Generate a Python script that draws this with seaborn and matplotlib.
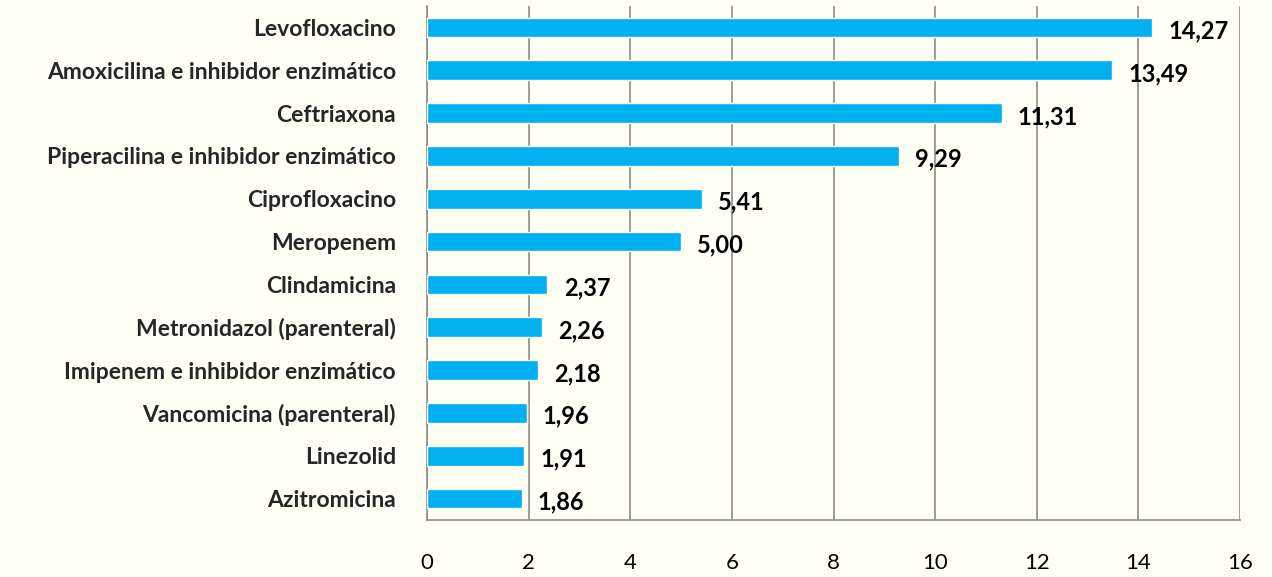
import matplotlib.pyplot as plt
import seaborn as sns
import pandas as pd

antibioticos = [
    "Levofloxacino",
    "Amoxicilina e inhibidor enzimático",
    "Ceftriaxona",
    "Piperacilina e inhibidor enzimático",
    "Ciprofloxacino",
    "Meropenem",
    "Clindamicina",
    "Metronidazol (parenteral)",
    "Imipenem e inhibidor enzimático",
    "Vancomicina (parenteral)",
    "Linezolid",
    "Azitromicina",
]
valores = [14.27, 13.49, 11.31, 9.29, 5.41, 5.00, 2.37, 2.26, 2.18, 1.96, 1.91, 1.86]
x_ticks = [0, 2, 4, 6, 8, 10, 12, 14, 16]

BG = "#FFFFF4"
BAR = "#00B0F0"
GRID = "#8C8C8C"

sns.set_theme(style="white")
plt.rcParams["font.family"] = ["Lato", "DejaVu Sans"]

df = pd.DataFrame({"antibiotico": antibioticos, "valor": valores})

fig = plt.figure(figsize=(12.72, 5.77), dpi=100, facecolor=BG)
ax = fig.add_axes([427 / 1272, 1 - 520 / 577, (1240 - 427) / 1272, (520 - 6) / 577])
ax.set_facecolor(BG)

sns.barplot(data=df, x="valor", y="antibiotico", orient="h", color=BAR,
            saturation=1, width=0.46, ax=ax, zorder=3)

ax.set_xlim(0, 16)
ax.set_xticks(x_ticks)
ax.set_xticklabels([str(t) for t in x_ticks], fontsize=16)
ax.xaxis.grid(True, color=GRID, linewidth=1.2, zorder=0)
ax.set_axisbelow(True)
ax.tick_params(axis="x", length=0, pad=24, colors="black")
ax.tick_params(axis="y", length=4.3, width=1, color=GRID, pad=18)
for lab in ax.get_yticklabels():
    lab.set_fontweight("bold")
    lab.set_fontsize(16.5)

for sp in ["top", "right"]:
    ax.spines[sp].set_visible(False)
for sp in ["left", "bottom"]:
    ax.spines[sp].set_color(GRID)
    ax.spines[sp].set_linewidth(1.2)

for i, v in enumerate(valores):
    ax.text(v + 0.32, i + 0.08, f"{v:.2f}".replace(".", ","), va="center", ha="left",
            fontsize=17, fontweight="bold", color="black", zorder=4)

ax.set_xlabel("")
ax.set_ylabel("")

fig.savefig("out.png", dpi=100, facecolor=BG)
